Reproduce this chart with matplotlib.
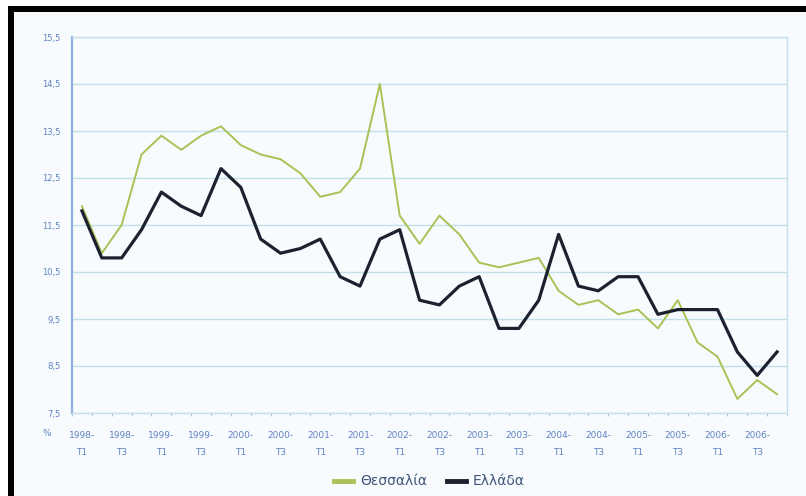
import numpy as np
import matplotlib.pyplot as plt
from matplotlib.patches import Rectangle

# Quarters 1998-T1 .. 2006-T4
quarters = [f"{y}-Τ{q}" for y in range(1998, 2007) for q in range(1, 5)]

thessalia = [11.9, 10.9, 11.5, 13.0, 13.4, 13.1, 13.4, 13.6, 13.2, 13.0,
             12.9, 12.6, 12.1, 12.2, 12.7, 14.5, 11.7, 11.1, 11.7, 11.3,
             10.7, 10.6, 10.7, 10.8, 10.1, 9.8, 9.9, 9.6, 9.7, 9.3,
             9.9, 9.0, 8.7, 7.8, 8.2, 7.9]
ellada = [11.8, 10.8, 10.8, 11.4, 12.2, 11.9, 11.7, 12.7, 12.3, 11.2,
          10.9, 11.0, 11.2, 10.4, 10.2, 11.2, 11.4, 9.9, 9.8, 10.2,
          10.4, 9.3, 9.3, 9.9, 11.3, 10.2, 10.1, 10.4, 10.4, 9.6,
          9.7, 9.7, 9.7, 8.8, 8.3, 8.8]

yticks = [7.5, 8.5, 9.5, 10.5, 11.5, 12.5, 13.5, 14.5, 15.5]
ytick_labels = ["7,5", "8,5", "9,5", "10,5", "11,5", "12,5", "13,5", "14,5", "15,5"]

label_col = "#5f82c0"
green = "#a8c256"
dark = "#1c2130"

fig = plt.figure(figsize=(8.06, 4.96), dpi=100)
fig.patch.set_facecolor("#f7fbfd")

ax = fig.add_axes([72 / 806, 83 / 496, 715 / 806, 376 / 496])
ax.set_facecolor("#f7fbfd")

x = np.arange(len(quarters))
ax.plot(x, thessalia, color=green, lw=1.4, label="Θεσσαλία", zorder=3)
ax.plot(x, ellada, color=dark, lw=2.3, label="Ελλάδα", zorder=4)

ax.set_xlim(-0.5, len(quarters) - 0.5)
ax.set_ylim(7.5, 15.5)
ax.set_yticks(yticks)
ax.set_yticklabels(ytick_labels)
ax.grid(axis="y", color="#bfe2ea", lw=1.0)
ax.set_axisbelow(True)

xt = x[::2]
ax.set_xticks(xt)
ax.set_xticklabels([q.replace("-", "-\n") for q in quarters[::2]], linespacing=2.2)
ax.set_xticks(np.arange(-0.5, len(quarters), 1), minor=True)
ax.tick_params(axis="x", which="major", length=0, pad=13, labelsize=6.5, labelcolor=label_col)
ax.tick_params(axis="x", which="minor", length=2, color="#9fb8d8")
ax.tick_params(axis="y", length=0, pad=8, labelsize=6, labelcolor=label_col)

ax.spines["left"].set_color("#8fb0e0")
ax.spines["left"].set_linewidth(1.6)
for s in ["top", "right", "bottom"]:
    ax.spines[s].set_color("#c6dfec")
    ax.spines[s].set_linewidth(1.0)

fig.text(47 / 806, 1 - 433 / 496, "%", color=label_col, fontsize=6.5, ha="center", va="center")

leg = ax.legend(loc="center", bbox_to_anchor=(0.5, -0.182), ncol=2, frameon=False,
                fontsize=10, handlelength=1.4, columnspacing=1.4, handletextpad=0.5)
for t in leg.get_texts():
    t.set_color("#3f5478")
for h in leg.get_lines():
    h.set_linewidth(3.5)

# scanned page frame
fig.add_artist(Rectangle((8 / 806, 1 - 12 / 496), 1, 6 / 496, transform=fig.transFigure,
                         color="black", lw=0))
fig.add_artist(Rectangle((8 / 806, 0), 6 / 806, 1 - 8 / 496, transform=fig.transFigure,
                         color="black", lw=0))
fig.add_artist(Rectangle((0, 1 - 6 / 496), 1, 6 / 496, transform=fig.transFigure,
                         color="white", lw=0))
fig.add_artist(Rectangle((0, 0), 8 / 806, 1, transform=fig.transFigure,
                         color="white", lw=0))

fig.savefig("out.png", dpi=100, facecolor=fig.get_facecolor())
